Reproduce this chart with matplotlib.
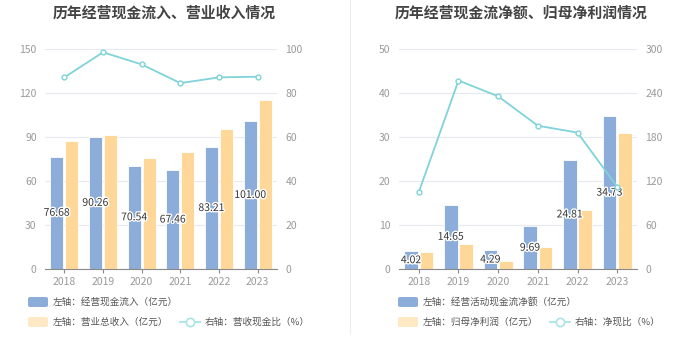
import matplotlib
matplotlib.use('Agg')
import matplotlib.pyplot as plt
import matplotlib.patheffects as pe
from matplotlib.patches import FancyBboxPatch
from matplotlib.lines import Line2D
import numpy as np

plt.rcParams['font.family'] = ['Noto Sans CJK SC', 'DejaVu Sans']

years = ['2018', '2019', '2020', '2021', '2022', '2023']

# left chart
cash_in = [76.68, 90.26, 70.54, 67.46, 83.21, 101.00]
revenue = [87.5, 91.4, 75.7, 79.6, 95.2, 115.4]
cash_ratio = [87.1, 98.5, 93.0, 84.5, 87.1, 87.4]

# right chart
cash_net = [4.02, 14.65, 4.29, 9.69, 24.81, 34.73]
net_profit = [3.86, 5.76, 1.9, 4.92, 13.3, 31.0]
net_ratio = [105, 257, 235.5, 195.4, 186, 112.3]

BLUE = '#8cacd9'
YELLOW = '#ffd899'
YELLOW_LEG = '#ffe8c4'
CYAN = '#7fd3d9'
CYAN_LEG = '#a9e4e7'
GRID = '#e6e9f2'
TICK = '#9a9a9a'


def draw_panel(fig, rect, title, bars1, bars2, line, lmax, rmax, step_l, step_r,
               leg1, leg2, leg_x):
    ax = fig.add_axes(rect)
    x = np.arange(len(years))
    w = 0.34
    ax.bar(x - w / 2 - 0.025, bars1, w, color=BLUE, edgecolor='white', linewidth=0.6, zorder=2)
    ax.bar(x + w / 2 + 0.025, bars2, w, color=YELLOW, edgecolor='white', linewidth=0.6, zorder=2)
    for xi, v in zip(x, bars1):
        ax.text(xi - w / 2 - 0.025, v / 2, f'{v:.2f}', ha='center', va='center', fontsize=7.5,
                color='#333333', zorder=5,
                path_effects=[pe.withStroke(linewidth=2, foreground='white')])
    ax.set_xlim(-0.5, len(years) - 0.5)
    ax.set_ylim(0, lmax)
    ax.set_yticks(np.arange(0, lmax + 1, step_l))
    ax.set_xticks(x)
    ax.set_xticklabels(years)
    ax.grid(axis='y', color=GRID, linewidth=0.8, zorder=0)
    ax.set_axisbelow(True)
    for s in ['top', 'right', 'left']:
        ax.spines[s].set_visible(False)
    ax.spines['bottom'].set_color('#8a8a8a')
    ax.tick_params(axis='y', length=0, labelsize=7.5, labelcolor=TICK, pad=6)
    ax.tick_params(axis='x', length=3, color='#8a8a8a', labelsize=7.5, labelcolor=TICK, pad=3)

    ax2 = ax.twinx()
    ax2.plot(x, line, color=CYAN, linewidth=1.3, marker='o', markersize=3.5,
             markerfacecolor='white', markeredgecolor=CYAN, markeredgewidth=1, zorder=4)
    ax2.set_ylim(0, rmax)
    ax2.set_yticks(np.arange(0, rmax + 1, step_r))
    for s in ['top', 'right', 'left', 'bottom']:
        ax2.spines[s].set_visible(False)
    ax2.tick_params(axis='y', length=0, labelsize=7.5, labelcolor=TICK, pad=6)

    cx = rect[0] + rect[2] / 2
    fig.text(cx + 0.005, 1 - 13 / 360, title, ha='center', va='center', fontsize=10.7,
             fontweight='bold', color='#444444')

    # legend
    def patch(px, py, color):
        fig.patches.append(FancyBboxPatch((px / 700, 1 - (py + 5) / 360), 20 / 700, 10 / 360,
                                          boxstyle='round,pad=0,rounding_size=0.004',
                                          transform=fig.transFigure, facecolor=color,
                                          edgecolor='none'))
    patch(leg_x, 302, BLUE)
    fig.text((leg_x + 25) / 700, 1 - 302 / 360, leg1, ha='left', va='center', fontsize=6.9, color='#555555')
    patch(leg_x, 322, YELLOW_LEG)
    fig.text((leg_x + 25) / 700, 1 - 322 / 360, leg2, ha='left', va='center', fontsize=6.9, color='#555555')
    return ax


fig = plt.figure(figsize=(7, 3.6), dpi=100)

draw_panel(fig, [45 / 700, 1 - 269 / 360, 232 / 700, 220 / 360],
           '历年经营现金流入、营业收入情况', cash_in, revenue, cash_ratio, 150, 100, 30, 20,
           '左轴：经营现金流入（亿元）', '左轴：营业总收入（亿元）', 28)
draw_panel(fig, [399 / 700, 1 - 269 / 360, 238 / 700, 220 / 360],
           '历年经营现金流净额、归母净利润情况', cash_net, net_profit, net_ratio, 50, 300, 10, 60,
           '左轴：经营活动现金流净额（亿元）', '左轴：归母净利润（亿元）', 398)

# line legends
for lx, txt in [(180, '右轴：营收现金比（%）'), (550, '右轴：净现比（%）')]:
    fig.add_artist(Line2D([lx / 700, (lx + 20) / 700], [1 - 322 / 360] * 2, color=CYAN_LEG,
                          linewidth=1.3, transform=fig.transFigure))
    fig.add_artist(Line2D([(lx + 10) / 700], [1 - 322 / 360], marker='o', markersize=6,
                          markerfacecolor='white', markeredgecolor=CYAN_LEG, markeredgewidth=1.2,
                          transform=fig.transFigure))
    fig.text((lx + 25) / 700, 1 - 322 / 360, txt, ha='left', va='center', fontsize=6.9, color='#555555')

# separator
fig.add_artist(Line2D([350.5 / 700] * 2, [1, 1 - 334 / 360], color='#eeeeee', linewidth=0.8,
                      transform=fig.transFigure))

fig.savefig('out.png', dpi=100, facecolor='white')
